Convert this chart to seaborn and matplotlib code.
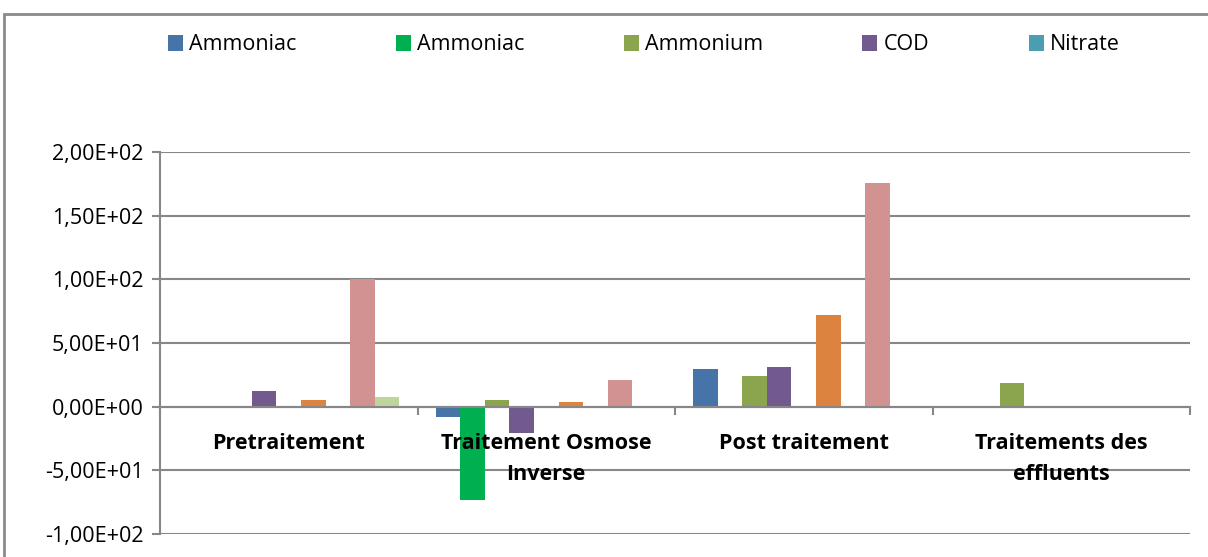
import numpy as np
import pandas as pd
import matplotlib
matplotlib.use("Agg")
import matplotlib.pyplot as plt
import seaborn as sns
from matplotlib.patches import Patch, Rectangle
from matplotlib.ticker import FuncFormatter, MultipleLocator, FixedLocator

# Categories (process stages)
stages = ["Pretraitement", "Traitement Osmose\nInverse", "Post traitement", "Traitements des\neffluents"]

# Series, in Excel order (only the first five are shown in the legend)
series = ["Ammoniac", "Ammoniac ", "Ammonium", "COD", "Nitrate",
          "Série 6", "Série 7", "Série 8", "Série 9"]
colors = ["#4674A8", "#00B050", "#8BA44E", "#725A8E", "#4A9DB3",
          "#DC843F", "#8DB3E2", "#D29292", "#BDD59C"]

# Values, one list per series (per stage)
ammoniac_1 = [0.0, -8.0, 29.6, 0.0]
ammoniac_2 = [0.0, -73.0, 0.0, 0.0]
ammonium = [0.0, 5.5, 23.8, 18.3]
cod = [12.5, -20.5, 30.9, 0.0]
nitrate = [0.0, 0.0, 0.0, 0.0]
serie_6 = [5.0, 3.7, 72.0, 0.0]
serie_7 = [0.0, 0.0, 0.0, 0.0]
serie_8 = [100.0, 20.6, 175.5, 0.0]
serie_9 = [7.5, 0.0, 0.0, 0.0]

values = [ammoniac_1, ammoniac_2, ammonium, cod, nitrate,
          serie_6, serie_7, serie_8, serie_9]

df = pd.DataFrame(
    [(st, s, v) for s, vals in zip(series, values) for st, v in zip(stages, vals)],
    columns=["stage", "serie", "value"],
)

plt.rcParams["font.family"] = ["Open Sans", "DejaVu Sans"]
fig = plt.figure(figsize=(12.08, 5.57), dpi=100)
ax = fig.add_axes([160 / 1208, 1 - 534 / 557, 1030 / 1208, 382 / 557])

sns.barplot(data=df, x="stage", y="value", hue="serie", order=stages,
            hue_order=series, palette=colors, width=9 / 10.5, saturation=1,
            linewidth=0, errorbar=None, legend=False, ax=ax)

ax.set_ylim(-100, 200)
ax.set_xlim(-0.5, len(stages) - 0.5)
ax.yaxis.set_major_locator(MultipleLocator(50))
ax.yaxis.set_major_formatter(
    FuncFormatter(lambda v, p: ("%.2E" % v).replace(".", ",")))
ax.set_xlabel("")
ax.set_ylabel("")

grid_c = "#878787"
ax.grid(axis="y", color=grid_c, linewidth=1.5)
ax.set_axisbelow(True)
for side in ["top", "right"]:
    ax.spines[side].set_visible(False)
ax.spines["left"].set_color(grid_c)
ax.spines["left"].set_linewidth(1.5)
ax.spines["bottom"].set_position(("data", 0))
ax.spines["bottom"].set_color(grid_c)
ax.spines["bottom"].set_linewidth(1.5)
ax.spines["bottom"].set_zorder(3)

ax.tick_params(axis="y", colors=grid_c, labelcolor="black", labelsize=15.5,
               length=6, width=1.5, pad=6)
ax.tick_params(axis="x", which="major", length=0, labelbottom=False)
ax.xaxis.set_minor_locator(FixedLocator(np.arange(-0.5, len(stages), 1.0)))
ax.tick_params(axis="x", which="minor", length=6, width=1.5, colors=grid_c,
               direction="out")

# Category labels drawn on top of the bars (as Excel does)
for i, st in enumerate(stages):
    ax.annotate(st, xy=(i, 0), xytext=(0, -19), textcoords="offset points",
                ha="center", va="top", fontsize=15.5, fontweight="bold",
                linespacing=1.65, zorder=5)

# Legend: Excel only shows the first five entries
handles = [Patch(facecolor=c, edgecolor="none") for c in colors[:5]]
fig.legend(handles, ["Ammoniac", "Ammoniac", "Ammonium", "COD", "Nitrate"],
           loc="center", bbox_to_anchor=(0.533, 1 - 45 / 557), ncol=5,
           frameon=False, fontsize=15.5, handlelength=0.7, handleheight=0.7,
           handletextpad=0.3, columnspacing=4.6)

# Chart area border
fig.add_artist(Rectangle((4 / 1208, -0.1), 1.2, 1 - 14 / 557 + 0.1,
                         transform=fig.transFigure, fill=False,
                         edgecolor="#8a8a8a", linewidth=2))

fig.savefig("out.png", dpi=100)
